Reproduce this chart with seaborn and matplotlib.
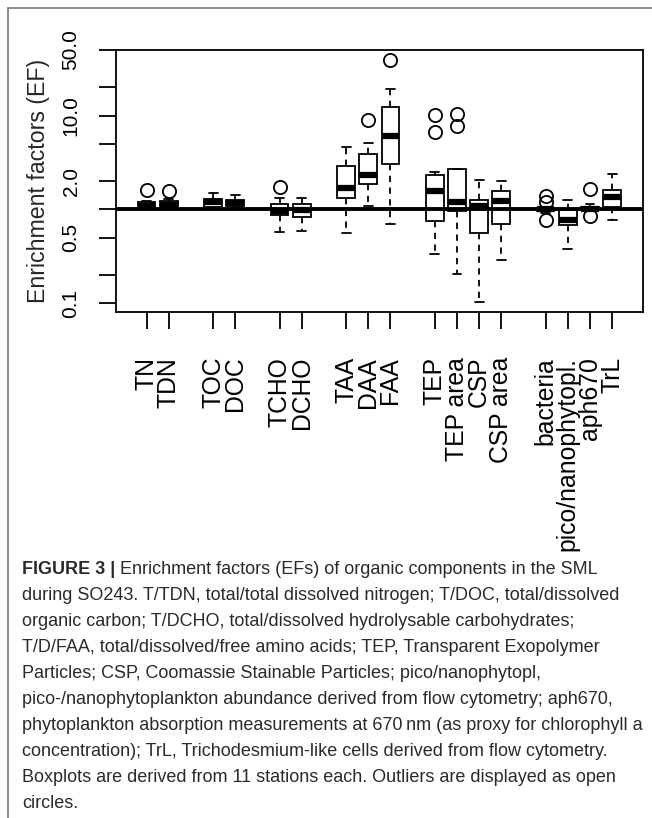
import numpy as np
import pandas as pd
import matplotlib
matplotlib.use("Agg")
import matplotlib.pyplot as plt
import matplotlib.patches as patches
from matplotlib.ticker import NullLocator
import seaborn as sns

# Enrichment factors per station (11 stations each)
tn = [1.00, 1.02, 1.03, 1.03, 1.06, 1.09, 1.13, 1.19, 1.19, 1.24, 1.60]
tdn = [1.01, 1.04, 1.06, 1.06, 1.09, 1.12, 1.17, 1.24, 1.24, 1.28, 1.58]
toc = [1.02, 1.05, 1.07, 1.07, 1.15, 1.20, 1.24, 1.30, 1.30, 1.38, 1.49]
doc = [1.04, 1.06, 1.08, 1.08, 1.13, 1.18, 1.22, 1.27, 1.27, 1.33, 1.41]
tcho = [0.574, 0.80, 0.88, 0.88, 0.93, 0.97, 1.05, 1.13, 1.13, 1.33, 1.73]
dcho = [0.59, 0.75, 0.84, 0.84, 0.92, 0.975, 1.05, 1.15, 1.15, 1.25, 1.32]
taa = [0.56, 1.10, 1.33, 1.33, 1.55, 1.70, 2.2, 2.89, 2.89, 3.6, 4.68]
daa = [1.08, 1.5, 1.88, 1.88, 2.1, 2.30, 3.0, 3.91, 3.91, 5.07, 9.0]
faa = [0.704, 2.0, 3.06, 3.06, 4.5, 6.13, 9.0, 12.2, 12.2, 19.2, 39.1]
tep = [0.332, 0.6, 0.75, 0.752, 1.2, 1.566, 1.9, 2.11, 2.49, 6.64, 10.2]
tep_area = [0.203, 0.8, 0.95, 0.95, 1.1, 1.196, 1.5, 2.71, 2.71, 7.65, 10.4]
csp = [0.103, 0.4, 0.56, 0.56, 0.9, 1.10, 1.18, 1.25, 1.25, 1.6, 2.04]
csp_area = [0.292, 0.55, 0.704, 0.704, 1.0, 1.225, 1.4, 1.59, 1.59, 1.8, 2.0]
bacteria = [0.78, 0.92, 0.95, 0.95, 0.97, 1.0, 1.02, 1.03, 1.05, 1.2, 1.38]
pico = [0.382, 0.6, 0.676, 0.676, 0.74, 0.78, 0.88, 0.976, 0.976, 1.1, 1.27]
aph670 = [0.85, 0.98, 0.99, 0.99, 1.0, 1.01, 1.03, 1.06, 1.08, 1.15, 1.66]
trl = [0.764, 0.95, 1.06, 1.06, 1.25, 1.35, 1.5, 1.62, 1.62, 2.0, 2.39]

groups = [
    {"TN": tn, "TDN": tdn},
    {"TOC": toc, "DOC": doc},
    {"TCHO": tcho, "DCHO": dcho},
    {"TAA": taa, "DAA": daa, "FAA": faa},
    {"TEP": tep, "TEP area": tep_area, "CSP": csp, "CSP area": csp_area},
    {"bacteria": bacteria, "pico/nanophytopl.": pico, "aph670": aph670, "TrL": trl},
]
y_ticks = [0.1, 0.2, 0.5, 1, 2, 5, 10, 20, 50]
y_ticklabels = ["0.1", "", "0.5", "", "2.0", "", "10.0", "", "50.0"]

caption_head = "FIGURE 3 |"
caption_lines = [
    " Enrichment factors (EFs) of organic components in the SML",
    "during SO243. T/TDN, total/total dissolved nitrogen; T/DOC, total/dissolved",
    "organic carbon; T/DCHO, total/dissolved hydrolysable carbohydrates;",
    "T/D/FAA, total/dissolved/free amino acids; TEP, Transparent Exopolymer",
    "Particles; CSP, Coomassie Stainable Particles; pico/nanophytopl,",
    "pico-/nanophytoplankton abundance derived from flow cytometry; aph670,",
    "phytoplankton absorption measurements at 670\u2009nm (as proxy for chlorophyll a",
    "concentration); TrL, Trichodesmium-like cells derived from flow cytometry.",
    "Boxplots are derived from 11 stations each. Outliers are displayed as open",
    "circles.",
]


def build_frame():
    rows, order = [], []
    for i, grp in enumerate(groups):
        if i > 0:
            order.append(f"_gap{i}")  # empty slot between groups
        for name, vals in grp.items():
            order.append(name)
            rows += [(name, v) for v in vals]
    return pd.DataFrame(rows, columns=["component", "ef"]), order


def main():
    sns.set_theme(style="ticks")
    plt.rcParams["font.family"] = ["Liberation Sans", "DejaVu Sans"]

    df, order = build_frame()
    W, H = 652, 818
    fig = plt.figure(figsize=(W / 100, H / 100), dpi=100)
    ax = fig.add_axes([116 / W, 1 - 311.7 / H, 526.7 / W, 261.7 / H])

    sns.boxplot(data=df, x="component", y="ef", order=order, ax=ax,
                color="white", linecolor="black", linewidth=1.3, width=0.8, whis=1.5,
                medianprops=dict(linewidth=4.5, solid_capstyle="butt"),
                whiskerprops=dict(linestyle=(0, (3.5, 3))),
                flierprops=dict(marker="o", markersize=9.5, markerfacecolor="none",
                                markeredgecolor="black", markeredgewidth=1.3))
    ax.set_yscale("log")
    ax.axhline(1, color="black", lw=2.8, zorder=6)

    # R-like limits: 4% padding around data range (log) and around slots
    lo, hi = np.log10(df["ef"].min()), np.log10(df["ef"].max())
    pad = 0.04 * (hi - lo)
    ax.set_ylim(10 ** (lo - pad), 10 ** (hi + pad))
    ax.set_xlim(-0.5 - 0.04 * len(order), len(order) - 0.5 + 0.04 * len(order))

    ax.set_yticks(y_ticks, y_ticklabels)
    ax.yaxis.set_minor_locator(NullLocator())
    for t in ax.get_yticklabels():
        t.set_rotation(90)
        t.set_va("center")
    real = [i for i, c in enumerate(order) if not c.startswith("_gap")]
    ax.set_xticks(real, [order[i] for i in real], rotation=90)

    ax.tick_params(axis="both", direction="out", length=12.5, width=1.3, colors="black")
    ax.tick_params(axis="x", labelsize=17.8, pad=20)
    ax.tick_params(axis="y", labelsize=15, pad=13)
    for s in ax.spines.values():
        s.set_visible(True)
        s.set_linewidth(1.3)
        s.set_color("black")
    ax.set_xlabel("")
    ax.set_ylabel("Enrichment factors (EF)", fontsize=16.7)
    ax.yaxis.set_label_coords(-0.125, 0.5)

    # figure frame
    fig.add_artist(patches.Rectangle((8 / W, -0.05), 1.0, 1.05 - 8 / H, transform=fig.transFigure,
                                     fill=False, edgecolor="#777777", lw=1.2))

    # caption
    x0, y0, step = 22 / W, 574, 26
    cap_kw = dict(fontsize=13, color="#2a2a2a", va="baseline", ha="left")
    head = fig.text(x0, 1 - y0 / H, caption_head, fontweight="bold", **cap_kw)
    fig.canvas.draw()
    bb = head.get_window_extent()
    fig.text(bb.x1 / W, 1 - y0 / H, caption_lines[0], **cap_kw)
    for k, line in enumerate(caption_lines[1:], start=1):
        fig.text(x0, 1 - (y0 + k * step) / H, line, **cap_kw)

    fig.savefig("out.png", dpi=100)


if __name__ == "__main__":
    main()
